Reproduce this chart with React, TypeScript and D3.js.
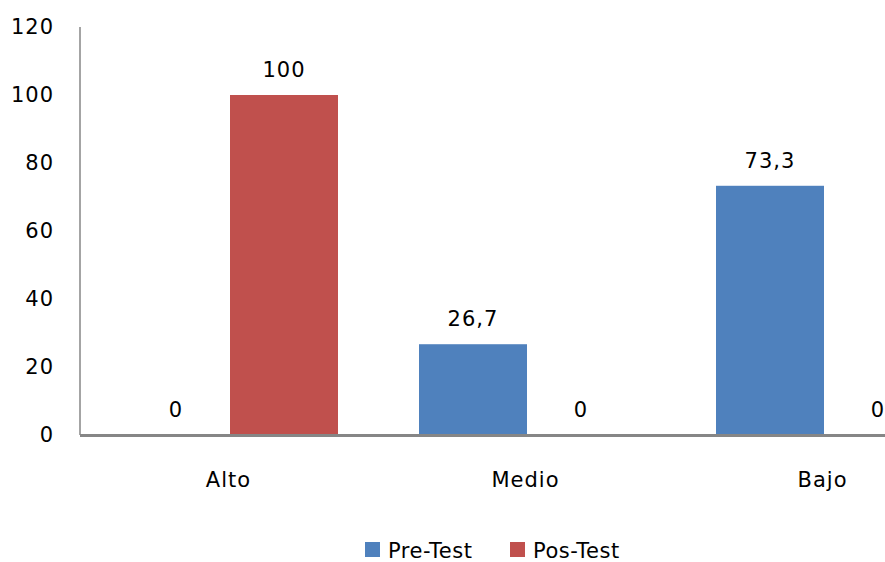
import React from "react";
import * as d3 from "d3";

const categories = ["Alto", "Medio", "Bajo"];
const seriesNames = ["Pre-Test", "Pos-Test"];
const preTest = [0, 26.7, 73.3];
const posTest = [100, 0, 0];
const yTicks = [0, 20, 40, 60, 80, 100, 120];
const colors = ["#4F81BD", "#C0504D"];

const W = 885;
const H = 562;
const FONT = "'DejaVu Sans', Verdana, sans-serif";

export default function App() {
  const left = 80;
  const bandW = 297;
  const x = d3
    .scaleBand<string>()
    .domain(categories)
    .range([left, left + bandW * categories.length])
    .paddingInner(0)
    .paddingOuter(0);
  const y = d3.scaleLinear().domain([0, 120]).range([435, 27]);
  const inner = d3.scaleBand<string>().domain(seriesNames).range([42, bandW - 39]);
  const fmt = (v: number) => String(v).replace(".", ",");
  const series = [preTest, posTest];

  return (
    <svg
      width={W}
      height={H}
      style={{ position: "absolute", left: 0, top: 0, background: "#fff" }}
      fontFamily={FONT}
    >
      {series.map((vals, si) =>
        categories.map((c, ci) => {
          const bx = (x(c) as number) + (inner(seriesNames[si]) as number);
          const bw = inner.bandwidth();
          const v = vals[ci];
          return (
            <g key={`${si}-${ci}`}>
              {v > 0 && (
                <rect x={bx} y={y(v)} width={bw} height={y(0) - y(v)} fill={colors[si]} />
              )}
              <text
                x={bx + bw / 2}
                y={y(v) - 18}
                textAnchor="middle"
                fontSize={21}
                fill="#000"
                letterSpacing={1}
              >
                {fmt(v)}
              </text>
            </g>
          );
        })
      )}
      <line x1={left} x2={left} y1={y(120)} y2={y(0)} stroke="#868686" strokeWidth={1.5} />
      <line x1={left} x2={W} y1={y(0) + 0.5} y2={y(0) + 0.5} stroke="#868686" strokeWidth={3} />
      {yTicks.map((t) => (
        <text
          key={t}
          x={54}
          y={y(t) + 7}
          textAnchor="end"
          fontSize={21}
          letterSpacing={1}
          fill="#000"
        >
          {t}
        </text>
      ))}
      {categories.map((c) => (
        <text
          key={c}
          x={(x(c) as number) + bandW / 2}
          y={487}
          textAnchor="middle"
          fontSize={21}
          letterSpacing={1}
          fill="#000"
        >
          {c}
        </text>
      ))}
      {seriesNames.map((s, i) => {
        const lx = [365, 510][i];
        return (
          <g key={s}>
            <rect x={lx} y={542} width={15} height={15} fill={colors[i]} />
            <text x={lx + 23} y={558} fontSize={21} letterSpacing={0.5} fill="#000">
              {s}
            </text>
          </g>
        );
      })}
    </svg>
  );
}
